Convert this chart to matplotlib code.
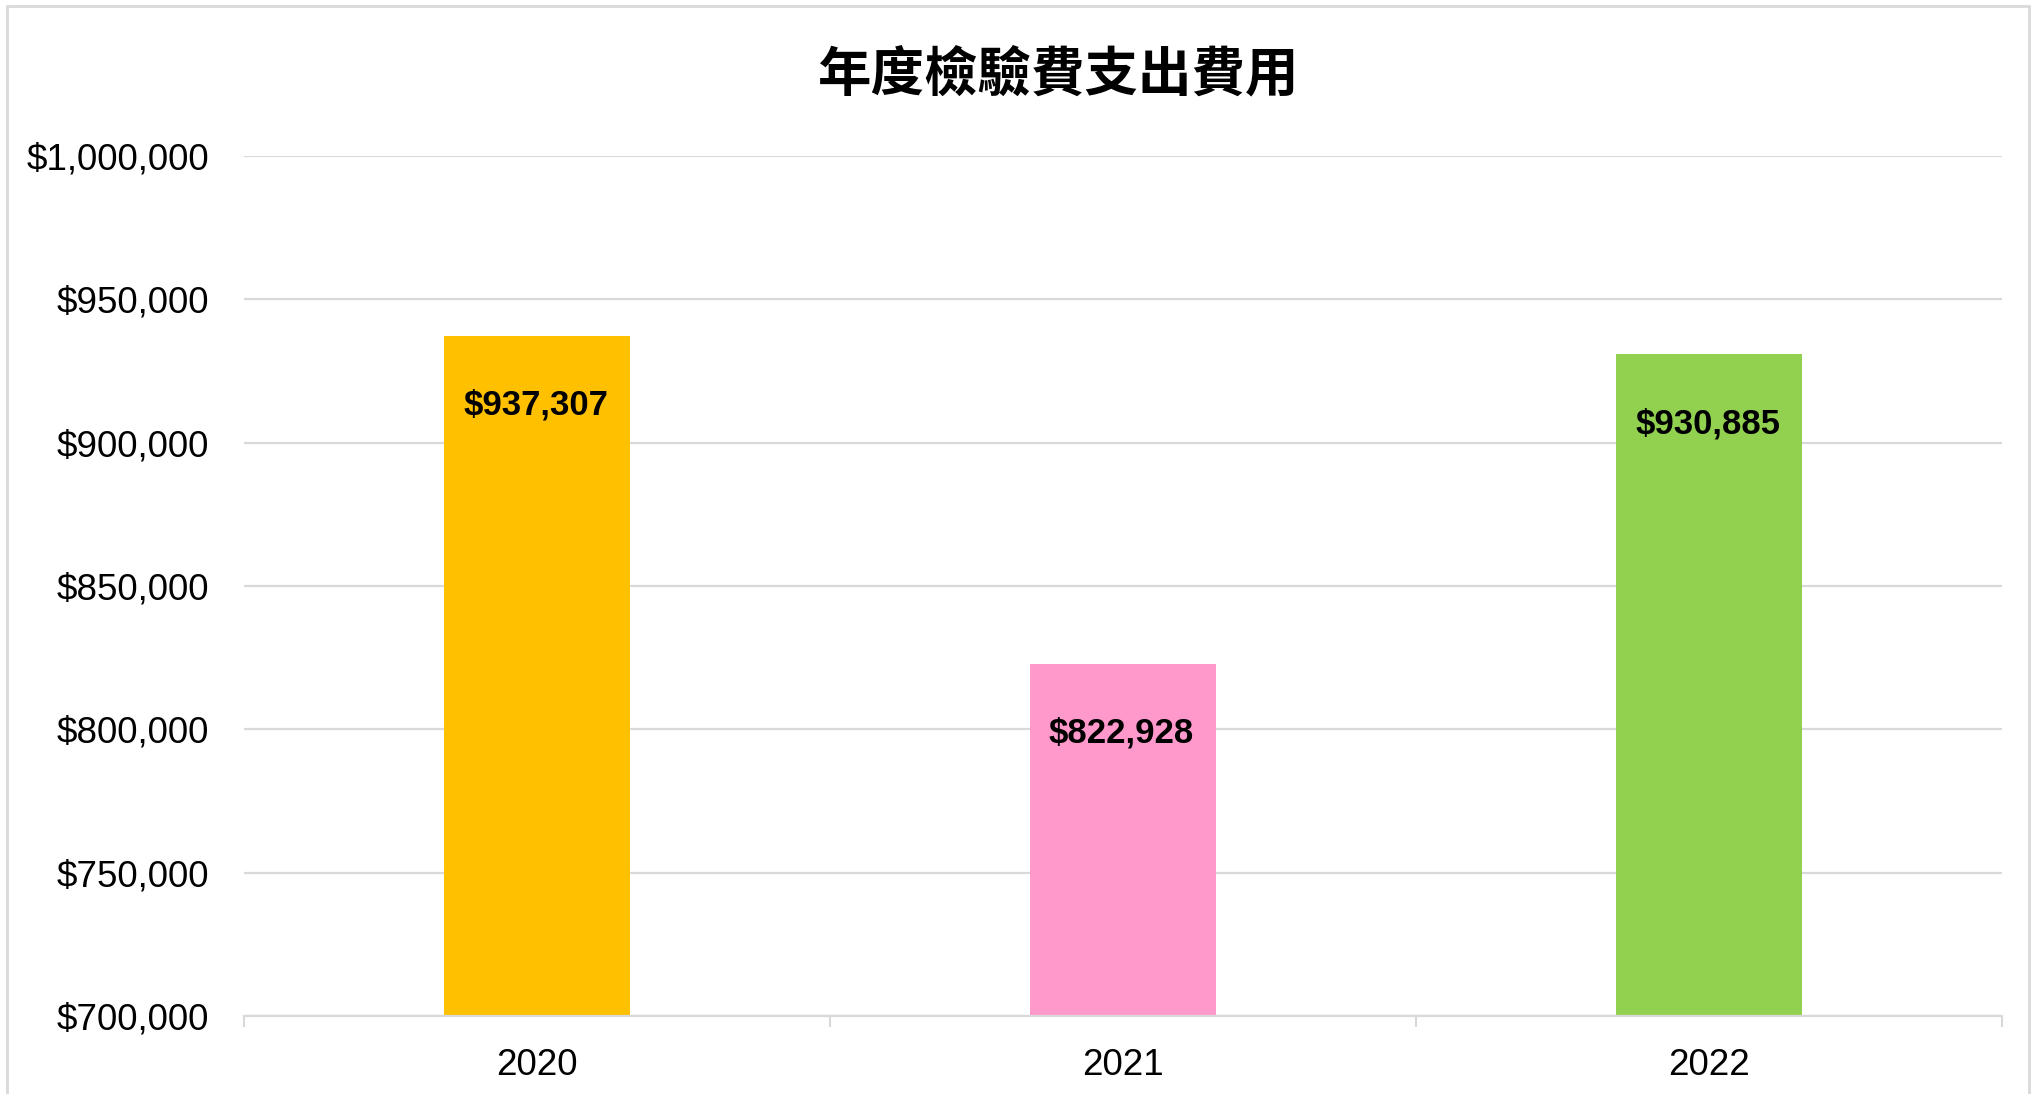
"""
Annual inspection fee bar chart (Excel-style).
"""

import matplotlib
matplotlib.use("Agg")
import matplotlib.pyplot as plt
import matplotlib.patches as mpatches
from matplotlib.ticker import FuncFormatter, FixedLocator

# data
years = ["2020", "2021", "2022"]
fees = [937307, 822928, 930885]
bar_colors = ["#FFC000", "#FF99CC", "#92D050"]
title = "年度檢驗費支出費用"

y_min, y_max, y_step = 700000, 1000000, 50000

GRID_COLOR = "#D9D9D9"
TEXT_COLOR = "#000000"

plt.rcParams["font.family"] = ["Liberation Sans", "DejaVu Sans"]

W, H, DPI = 2037, 1094, 100
fig = plt.figure(figsize=(W / DPI, H / DPI), dpi=DPI)
ax = fig.add_axes([244 / W, 1 - 1016 / H, (2002 - 244) / W, (1016 - 156) / H])

x = list(range(len(years)))
ax.bar(x, fees, width=0.317, color=bar_colors, zorder=3)

ax.set_xlim(-0.5, len(years) - 0.5)
ax.set_ylim(y_min, y_max)
ax.set_yticks(range(y_min, y_max + 1, y_step))
ax.yaxis.set_major_formatter(FuncFormatter(lambda v, _: f"${v:,.0f}"))
ax.grid(axis="y", color=GRID_COLOR, linewidth=1.6, zorder=0)
ax.set_axisbelow(True)

# category labels at centres, tick marks at boundaries
ax.set_xticks(x)
ax.set_xticklabels(years)
ax.xaxis.set_minor_locator(FixedLocator([i - 0.5 for i in range(len(years) + 1)]))
ax.tick_params(axis="x", which="major", length=0, pad=23, labelsize=26.5,
               labelcolor=TEXT_COLOR)
ax.tick_params(axis="x", which="minor", length=8, width=1.5, color=GRID_COLOR)
ax.tick_params(axis="y", length=0, pad=25, labelsize=26.5, labelcolor=TEXT_COLOR)

for side in ("top", "right", "left"):
    ax.spines[side].set_visible(False)
ax.spines["bottom"].set_color(GRID_COLOR)
ax.spines["bottom"].set_linewidth(1.6)
ax.spines["bottom"].set_zorder(4)

# data labels inside the bar tops
for xi, v in zip(x, fees):
    ax.annotate(f"${v:,.0f}", xy=(xi, v), xytext=(-1, -50),
                textcoords="offset points", ha="center", va="center",
                fontsize=25, fontweight="bold", color=TEXT_COLOR, zorder=5)

fig.text(1058 / W, 1 - 75 / H, title, ha="center", va="center",
         fontsize=38.5, fontweight="bold", color=TEXT_COLOR,
         family=["Noto Sans CJK TC", "DejaVu Sans"])

# chart frame
frame = mpatches.Rectangle((7 / W, -0.02), (2029 - 7) / W, 1 - 6 / H + 0.02,
                           transform=fig.transFigure, fill=False,
                           edgecolor=GRID_COLOR, linewidth=2)
fig.patches.append(frame)

fig.savefig("out.png", dpi=DPI)
